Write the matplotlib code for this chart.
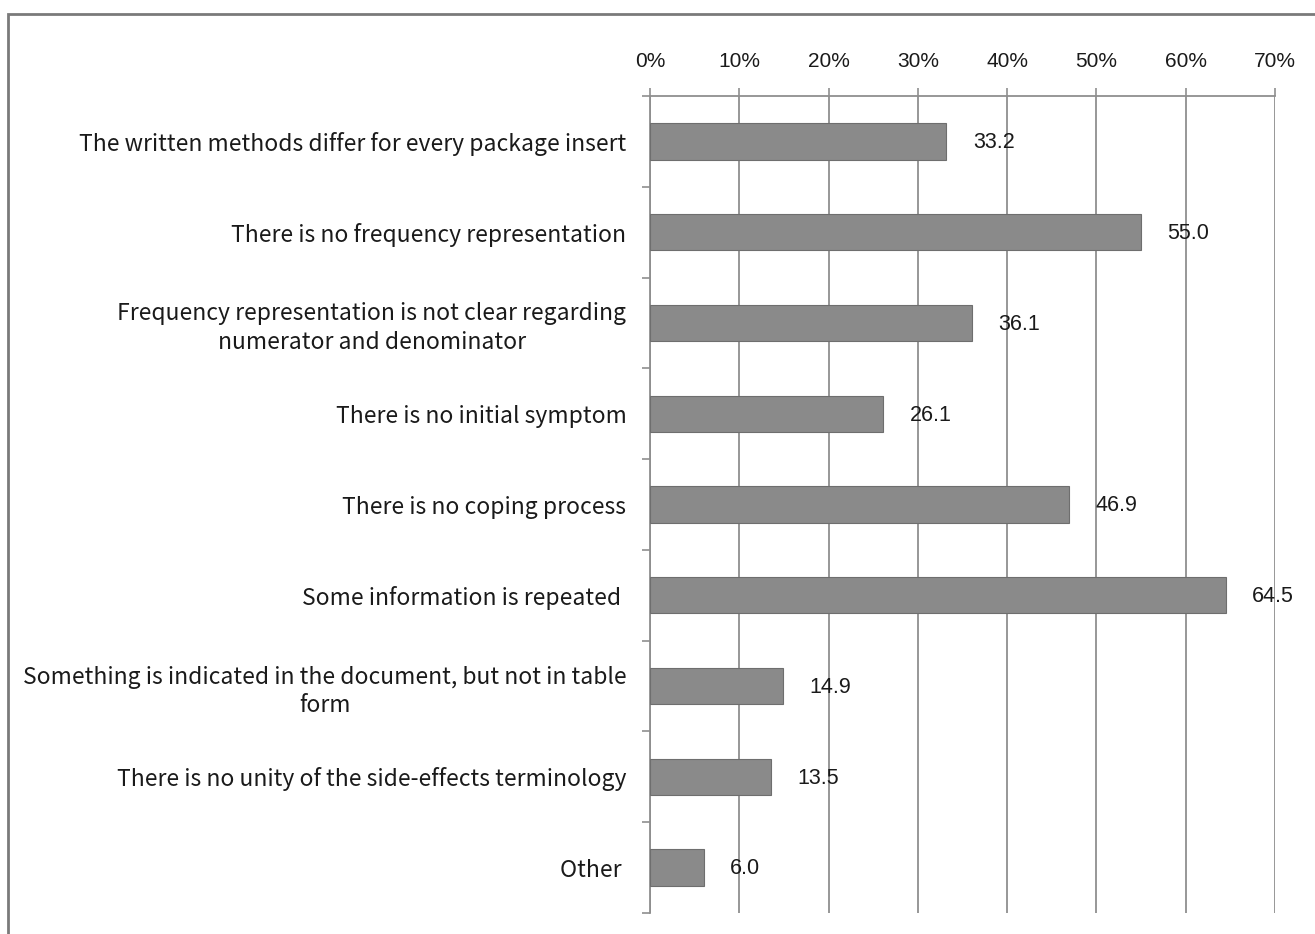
import matplotlib
matplotlib.use("Agg")
import matplotlib.pyplot as plt
from matplotlib.patches import Rectangle
import numpy as np

# Problems reported with the side-effects section of package inserts (%)
categories = [
    "The written methods differ for every package insert",
    "There is no frequency representation",
    "Frequency representation is not clear regarding\nnumerator and denominator",
    "There is no initial symptom",
    "There is no coping process",
    "Some information is repeated ",
    "Something is indicated in the document, but not in table\nform",
    "There is no unity of the side-effects terminology",
    "Other ",
]
values = [33.2, 55.0, 36.1, 26.1, 46.9, 64.5, 14.9, 13.5, 6.0]
xticks = [0, 10, 20, 30, 40, 50, 60, 70]
xtick_labels = ["0%", "10%", "20%", "30%", "40%", "50%", "60%", "70%"]

label_font = ["Noto Sans CJK JP", "DejaVu Sans"]
num_font = ["Liberation Sans Narrow", "Liberation Sans", "DejaVu Sans"]
grey = "#8a8a8a"
line_grey = "#8f8f8f"

fig = plt.figure(figsize=(13.15, 9.34), dpi=100)
ax = fig.add_axes([0.4943, 0.0225, 0.4753, 0.8747])

y = np.arange(len(categories))
ax.barh(y, values, height=0.4, color=grey, edgecolor="#6e6e6e", linewidth=0.8, zorder=3)

ax.set_xlim(0, 70)
ax.set_ylim(len(categories) - 0.5, -0.5)

# value labels next to each bar
for yi, v in zip(y, values):
    ax.annotate(f"{v:.1f}", xy=(v, yi), xytext=(19, -1), textcoords="offset points",
                va="center", ha="left", fontsize=15.5, family=num_font, color="#1a1a1a",
                zorder=4)

# x axis along the top
ax.xaxis.tick_top()
ax.set_xticks(xticks)
ax.set_xticklabels(xtick_labels, family=num_font, fontsize=15, color="#1a1a1a")
ax.tick_params(axis="x", direction="out", length=6, width=1.2, color=line_grey, pad=12)
ax.grid(axis="x", color=line_grey, linewidth=1.3, zorder=0)

# category labels, tick marks between categories
ax.set_yticks(y)
ax.set_yticklabels(categories, family=label_font, fontsize=16.5, color="#1a1a1a",
                   linespacing=1.3)
for lab in ax.get_yticklabels():
    lab.set_multialignment("center")
ax.tick_params(axis="y", which="major", length=0, pad=17)
ax.set_yticks(np.arange(-0.5, len(categories)), minor=True)
ax.tick_params(axis="y", which="minor", direction="out", length=6, width=1.2, color=line_grey)

for side in ["right", "bottom"]:
    ax.spines[side].set_visible(False)
for side in ["top", "left"]:
    ax.spines[side].set_color(line_grey)
    ax.spines[side].set_linewidth(1.3)

# outer chart frame
fig.patches.append(Rectangle((8 / 1315, -0.1), 1.2, 1.1 - 14 / 934,
                             transform=fig.transFigure, fill=False,
                             edgecolor="#7a7a7a", linewidth=2.0))

fig.savefig("out.png", dpi=100)
